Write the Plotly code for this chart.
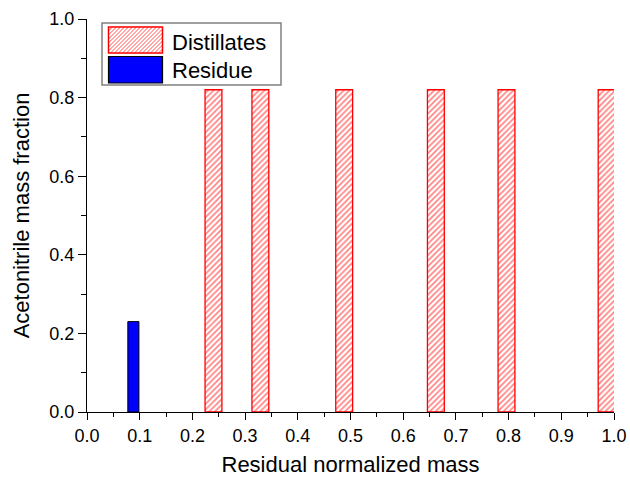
import plotly.graph_objects as go

dist_x = [0.240, 0.329, 0.488, 0.662, 0.796, 0.986]
dist_y = [0.82, 0.82, 0.82, 0.82, 0.82, 0.82]
res_x = [0.088]
res_y = [0.23]
x_ticks = [round(i * 0.1, 1) for i in range(11)]
y_ticks = [0.0, 0.2, 0.4, 0.6, 0.8, 1.0]
legend_names = ["Distillates", "Residue"]

W, H = 630, 477
ML, MR, MT, MB = 87, 16, 19, 65
PW, PH = W - ML - MR, H - MT - MB


def px(xs):
    # pixel x -> paper coordinate
    return (xs - ML) / PW


def py(ys):
    # pixel y -> paper coordinate
    return (H - MB - ys) / PH


fig = go.Figure()
fig.add_trace(go.Bar(
    x=dist_x, y=dist_y, width=[0.032] * len(dist_x), name=legend_names[0],
    marker=dict(color="white", line=dict(color="red", width=1.3),
                pattern=dict(shape="/", fgcolor="red", bgcolor="white", size=4, solidity=0.4)),
    showlegend=False,
))
fig.add_trace(go.Bar(
    x=res_x, y=res_y, width=[0.021], name=legend_names[1],
    marker=dict(color="blue", line=dict(color="black", width=1)),
    showlegend=False,
))

# custom legend (decoration in paper coordinates)
shapes = []
shapes.append(dict(type="rect", xref="paper", yref="paper", x0=px(102), x1=px(281),
                   y0=py(85), y1=py(23), line=dict(color="#808080", width=1.5),
                   fillcolor="white", layer="above"))
sx0, sx1, sy0, sy1 = 108.5, 162.5, 27, 53
shapes.append(dict(type="rect", xref="paper", yref="paper", x0=px(sx0), x1=px(sx1),
                   y0=py(sy1), y1=py(sy0), line=dict(width=0), fillcolor="white", layer="above"))
segs = []
step = 4.0
k = sx0 - (sy1 - sy0)
while k < sx1:
    xa, ya = k, sy1
    xb, yb = k + (sy1 - sy0), sy0
    if xa < sx0:
        ya = sy1 - (sx0 - xa)
        xa = sx0
    if xb > sx1:
        yb = sy0 + (xb - sx1)
        xb = sx1
    segs.append(f"M{px(xa):.5f},{py(ya):.5f}L{px(xb):.5f},{py(yb):.5f}")
    k += step
shapes.append(dict(type="path", xref="paper", yref="paper", path="".join(segs),
                   line=dict(color="rgba(255,60,60,0.9)", width=1), layer="above"))
shapes.append(dict(type="rect", xref="paper", yref="paper", x0=px(sx0), x1=px(sx1),
                   y0=py(sy1), y1=py(sy0), line=dict(color="red", width=1.5), layer="above"))
shapes.append(dict(type="rect", xref="paper", yref="paper", x0=px(108.5), x1=px(162.5),
                   y0=py(83), y1=py(56.5), line=dict(color="black", width=1.2),
                   fillcolor="blue", layer="above"))

font = dict(family="Liberation Sans, Arial, sans-serif", size=18, color="black")
annotations = [
    dict(text=legend_names[0], xref="paper", yref="paper", x=px(170), y=py(42),
         xanchor="left", yanchor="middle", showarrow=False, font=dict(size=22)),
    dict(text=legend_names[1], xref="paper", yref="paper", x=px(170), y=py(71),
         xanchor="left", yanchor="middle", showarrow=False, font=dict(size=22)),
]

fig.update_layout(
    width=W, height=H, barmode="overlay",
    paper_bgcolor="white", plot_bgcolor="white",
    margin=dict(l=ML, r=MR, t=MT, b=MB, autoexpand=False),
    font=font, showlegend=False, shapes=shapes, annotations=annotations,
)
fig.update_xaxes(
    range=[0, 1], tickvals=x_ticks, ticktext=[f"{v:.1f}" for v in x_ticks],
    showline=True, linecolor="black", linewidth=1, mirror=False, automargin=False,
    ticks="outside", ticklen=7, tickcolor="black", showgrid=False, zeroline=False,
    ticklabeloverflow="allow",
    minor=dict(dtick=0.05, ticks="outside", ticklen=4, tickcolor="black", showgrid=False),
    title=dict(text="Residual normalized mass", standoff=14),
)
fig.update_yaxes(
    range=[0, 1], tickvals=y_ticks, ticktext=[f"{v:.1f}" for v in y_ticks],
    showline=True, linecolor="black", linewidth=1, mirror=False, automargin=False,
    ticks="outside", ticklen=8, tickcolor="black", showgrid=False, zeroline=False,
    ticklabeloverflow="allow",
    minor=dict(dtick=0.1, ticks="outside", ticklen=5, tickcolor="black", showgrid=False),
    title=dict(text="Acetonitrile mass fraction", standoff=13),
)
fig.write_html("out.html", config={"displayModeBar": False},
               post_script="document.body.style.margin='0px';document.body.style.overflow='hidden';")
